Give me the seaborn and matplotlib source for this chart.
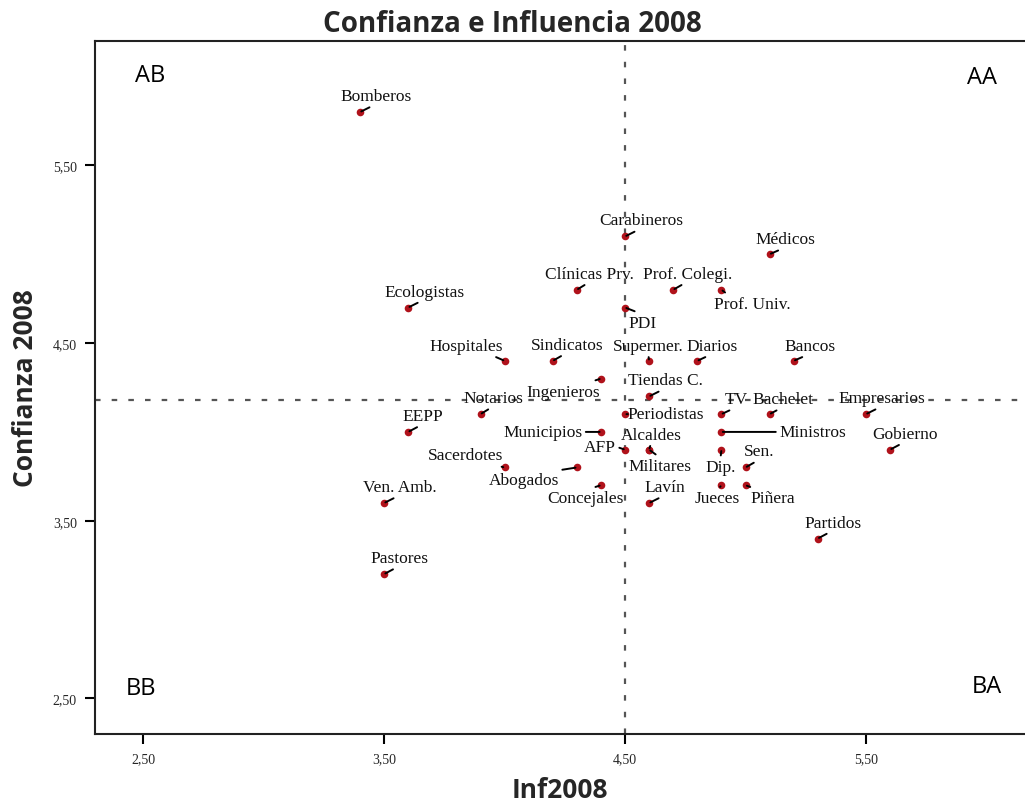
import numpy as np
import pandas as pd
import matplotlib
matplotlib.use("Agg")
import matplotlib.pyplot as plt
import seaborn as sns

# data
labels = ["Bomberos", "Carabineros", "Médicos", "Clínicas Prv.", "Prof. Colegi.",
          "Prof. Univ.", "Ecologistas", "PDI", "Hospitales", "Sindicatos",
          "Supermer.", "Diarios", "Bancos", "Ingenieros", "Tiendas C.",
          "Notarios", "Periodistas", "TV", "Bachelet", "Empresarios",
          "EEPP", "Municipios", "Ministros", "AFP", "Alcaldes", "Militares",
          "Dip.", "Sen.", "Gobierno", "Sacerdotes", "Abogados", "Concejales",
          "Lavín", "Jueces", "Piñera", "Partidos", "Ven. Amb.", "Pastores"]
inf2008 = [3.40, 4.50, 5.10, 4.30, 4.70,
           4.90, 3.60, 4.50, 4.00, 4.20,
           4.60, 4.80, 5.20, 4.40, 4.60,
           3.90, 4.50, 4.90, 5.10, 5.50,
           3.60, 4.40, 4.90, 4.50, 4.60, 4.60,
           4.90, 5.00, 5.60, 4.00, 4.30, 4.40,
           4.60, 4.90, 5.00, 5.30, 3.50, 3.50]
conf2008 = [5.80, 5.10, 5.00, 4.80, 4.80,
            4.80, 4.70, 4.70, 4.40, 4.40,
            4.40, 4.40, 4.40, 4.30, 4.20,
            4.10, 4.10, 4.10, 4.10, 4.10,
            4.00, 4.00, 4.00, 3.90, 3.90, 3.90,
            3.90, 3.80, 3.90, 3.80, 3.80, 3.70,
            3.60, 3.70, 3.70, 3.40, 3.60, 3.20]
ref_inf = 4.50
ref_conf = 4.18

# label offsets in pixels (layout only)
offsets = {
    "Bomberos": (16, 16), "Carabineros": (16, 16), "Médicos": (16, 15),
    "Clínicas Prv.": (13, 16), "Prof. Colegi.": (14, 16), "Prof. Univ.": (31, -14),
    "Ecologistas": (16, 16), "PDI": (18, -15), "Hospitales": (-38, 15),
    "Sindicatos": (14, 16), "Supermer.": (-1, 15), "Diarios": (15, 15),
    "Bancos": (16, 15), "Ingenieros": (-38, -13), "Tiendas C.": (16, 16),
    "Notarios": (13, 16), "Periodistas": (41, 0), "TV": (15, 15),
    "Bachelet": (13, 15), "Empresarios": (16, 16), "EEPP": (15, 16),
    "Municipios": (-58, 0), "Ministros": (91, 0), "AFP": (-25, 3),
    "Alcaldes": (2, 15), "Militares": (11, -16), "Dip.": (-1, -17),
    "Sen.": (14, 16), "Gobierno": (15, 16), "Sacerdotes": (-39, 12),
    "Abogados": (-53, -13), "Concejales": (-16, -13), "Lavín": (16, 16),
    "Jueces": (-4, -13), "Piñera": (27, -13), "Partidos": (15, 16),
    "Ven. Amb.": (16, 16), "Pastores": (15, 16),
}


def leader_anchor(dx, dy):
    if abs(dy) < 5:
        return (0.0 if dx > 0 else 1.0, 0.5)
    ry = 0.0 if dy > 0 else 1.0
    if dx > 25:
        rx = 0.2
    elif dx < -25:
        rx = 0.8
    else:
        rx = 0.5
    return (rx, ry)


df = pd.DataFrame({"Institucion": labels, "Inf2008": inf2008, "Conf2008": conf2008})

sns.set_style("white")
fig = plt.figure(figsize=(10.25, 8.04), dpi=100)
ax = fig.add_axes([0.0927, 0.0858, 0.9073, 0.862])

ax.axvline(ref_inf, color="#555555", lw=1.6, ls=(0, (2.5, 5)), zorder=1)
ax.axhline(ref_conf, color="#555555", lw=1.6, ls=(0, (2.5, 5)), zorder=1)

sns.scatterplot(data=df, x="Inf2008", y="Conf2008", ax=ax, color="#b0121b",
                s=30, edgecolor="#b0121b", linewidth=0, zorder=3)

px = 72 / 100  # pixels -> points
for lab, xv, yv in zip(labels, inf2008, conf2008):
    dx, dy = offsets[lab]
    ax.annotate(lab, xy=(xv, yv), xytext=(dx * px, dy * px), textcoords="offset points",
                ha="center", va="center", fontsize=12.5, family="Liberation Serif",
                color="#111111", zorder=4,
                arrowprops=dict(arrowstyle="-", color="black", lw=1.4,
                                shrinkA=0, shrinkB=1, relpos=leader_anchor(dx, dy)))

for txt, xq, yq in [("AB", 2.527, 6.01), ("AA", 5.98, 6.00),
                    ("BB", 2.49, 2.56), ("BA", 6.00, 2.57)]:
    ax.text(xq, yq, txt, ha="center", va="center", fontsize=17, family="Open Sans",
            color="black")

ax.set_xlim(2.30, 6.16)
ax.set_ylim(2.30, 6.20)
xt = [2.5, 3.5, 4.5, 5.5]
ax.set_xticks(xt)
ax.set_yticks(xt)
ax.set_xticklabels([f"{v:.2f}".replace(".", ",") for v in xt], family="Liberation Serif", fontsize=10)
ax.set_yticklabels([f"{v:.2f}".replace(".", ",") for v in xt], family="Liberation Serif", fontsize=10)
ax.tick_params(axis="both", direction="out", length=7, width=1.5, color="black",
               bottom=True, left=True, pad=6)

for side in ["left", "bottom", "top"]:
    ax.spines[side].set_color("#222222")
    ax.spines[side].set_linewidth(1.5)
ax.spines["right"].set_visible(False)

ax.set_xlabel("Inf2008", fontsize=19, fontweight="bold", family="Open Sans", labelpad=8)
ax.set_ylabel("Confianza 2008", fontsize=19, fontweight="bold", family="Open Sans", labelpad=10)
fig.suptitle("Confianza e Influencia 2008", x=0.5, y=0.970, va="center",
             fontsize=20, fontweight="bold", family="Open Sans")

fig.savefig("out.png", dpi=100)
